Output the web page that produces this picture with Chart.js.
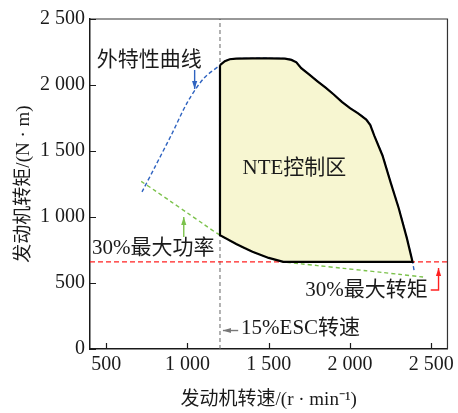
<!DOCTYPE html>
<html>
<head>
<meta charset="utf-8">
<script src="https://cdn.jsdelivr.net/npm/chart.js@4/dist/chart.umd.min.js"></script>
<style>
  html, body { margin: 0; padding: 0; background: #fff; }
</style>
</head>
<body>
<canvas id="c" width="458" height="413"></canvas>
<script>
// Full-load (external characteristic) torque curve, r/min and N·m
const extSpeed  = [720, 800, 900, 1000, 1100, 1200, 1230, 1260, 1300, 1400, 1500, 1600, 1640, 1670, 1700, 1750, 1800, 1850, 1900, 1950, 2000, 2050, 2100, 2125, 2150, 2200, 2250, 2300, 2350, 2385, 2395];
const extTorque = [1190, 1380, 1620, 1870, 2050, 2150, 2180, 2195, 2200, 2202, 2202, 2200, 2190, 2172, 2128, 2078, 2028, 1980, 1928, 1872, 1825, 1785, 1738, 1697, 1614, 1466, 1262, 1066, 840, 660, 590];

// 30% of maximum power curve
const powerSpeed  = [715, 800, 900, 1000, 1100, 1200, 1300, 1354, 1400, 1500, 1590, 1700, 1800, 1960, 2100, 2200, 2300, 2450];
const powerTorque = [1270, 1200, 1115, 1030, 945, 862, 795, 763, 737, 690, 660, 645, 632, 611, 593, 580, 566, 545];

const torque30   = 660;   // 30% of maximum torque, N·m
const escSpeed15 = 1200;  // 15% ESC speed, r/min

const xTicks = [500, 1000, 1500, 2000, 2500];
const xTickLabels = ['500', '1 000', '1 500', '2 000', '2 500'];
const yTicks = [0, 500, 1000, 1500, 2000, 2500];
const yTickLabels = ['0', '500', '1 000', '1 500', '2 000', '2 500'];

const SERIF = "'Liberation Serif', 'Noto Sans CJK SC', serif";
const INK = '#1a1a1a';

const toPts = (xs, ys) => xs.map((x, i) => ({ x: x, y: ys[i] }));
const extPts = toPts(extSpeed, extTorque);
const powerPts = toPts(powerSpeed, powerTorque);

// NTE control area: full-load curve on top, 30% torque line below, 30% power curve on the left-bottom
const nteTop = extPts.filter(p => p.x >= escSpeed15 && p.y >= torque30);
const nteBottom = powerPts.filter(p => p.x >= escSpeed15 && p.y >= torque30).reverse();
const ntePts = [...nteTop, ...nteBottom, nteTop[0]];

const X_MIN = 400, X_MAX = 2600, Y_MIN = 0, Y_MAX = 2500;

// Text labels and arrows, placed in data units
const notes = [
  { text: '外特性曲线', x: 765, y: 2189, align: 'center' },
  { text: 'NTE控制区', x: 1658, y: 1364, align: 'center' },
  { text: '30%最大功率', x: 789, y: 758, align: 'center' },
  { text: '30%最大转矩', x: 2102, y: 447, align: 'center' },
  { text: '15%ESC转速', x: 1330, y: 157, align: 'left' }
];
const arrows = [
  { color: '#2f63c0', path: [[1044, 2114], [1044, 1970]] },
  { color: '#7cc24c', path: [[977, 848], [977, 1000]] },
  { color: '#ff2020', path: [[2497, 447], [2545, 447], [2545, 614]] },
  { color: '#777777', path: [[1312, 140], [1218, 140]] }
];

function drawArrow(ctx, pts, color) {
  ctx.save();
  ctx.strokeStyle = color;
  ctx.fillStyle = color;
  ctx.lineWidth = 1.4;
  ctx.beginPath();
  ctx.moveTo(pts[0][0], pts[0][1]);
  for (let i = 1; i < pts.length; i++) ctx.lineTo(pts[i][0], pts[i][1]);
  ctx.stroke();
  const a = pts[pts.length - 2], b = pts[pts.length - 1];
  const ang = Math.atan2(b[1] - a[1], b[0] - a[0]);
  const L = 8, W = 2.6;
  ctx.beginPath();
  ctx.moveTo(b[0], b[1]);
  ctx.lineTo(b[0] - L * Math.cos(ang) + W * Math.sin(ang), b[1] - L * Math.sin(ang) - W * Math.cos(ang));
  ctx.lineTo(b[0] - L * Math.cos(ang) - W * Math.sin(ang), b[1] - L * Math.sin(ang) + W * Math.cos(ang));
  ctx.closePath();
  ctx.fill();
  ctx.restore();
}

const decorations = {
  id: 'decorations',
  afterDraw(chart) {
    const ctx = chart.ctx;
    const xs = chart.scales.x, ys = chart.scales.y;
    const a = chart.chartArea;
    ctx.save();
    // top and right frame
    ctx.strokeStyle = '#333';
    ctx.lineWidth = 1.2;
    ctx.beginPath();
    ctx.moveTo(a.left, a.top);
    ctx.lineTo(a.right, a.top);
    ctx.lineTo(a.right, a.bottom);
    ctx.stroke();
    // inward tick marks
    ctx.strokeStyle = INK;
    ctx.lineWidth = 1.2;
    ctx.beginPath();
    xs.ticks.forEach(t => {
      const px = Math.round(xs.getPixelForValue(t.value)) + 0.5;
      ctx.moveTo(px, a.bottom);
      ctx.lineTo(px, a.bottom - 6);
    });
    ys.ticks.forEach(t => {
      const py = Math.round(ys.getPixelForValue(t.value)) + 0.5;
      ctx.moveTo(a.left, py);
      ctx.lineTo(a.left + 6, py);
    });
    ctx.stroke();
    // labels
    ctx.fillStyle = INK;
    ctx.font = '21px ' + SERIF;
    ctx.textBaseline = 'middle';
    notes.forEach(n => {
      ctx.textAlign = n.align;
      ctx.fillText(n.text, xs.getPixelForValue(n.x), ys.getPixelForValue(n.y));
    });
    arrows.forEach(ar => {
      drawArrow(ctx, ar.path.map(p => [xs.getPixelForValue(p[0]), ys.getPixelForValue(p[1])]), ar.color);
    });
    ctx.restore();
  }
};

new Chart(document.getElementById('c'), {
  type: 'scatter',
  data: {
    datasets: [
      {
        label: 'NTE',
        data: ntePts,
        showLine: true,
        borderColor: '#000',
        borderWidth: 2.2,
        backgroundColor: '#f7f6d1',
        fill: 'shape',
        tension: 0,
        pointRadius: 0,
        order: 0
      },
      {
        label: '外特性曲线',
        data: extPts,
        showLine: true,
        borderColor: '#2f63c0',
        borderWidth: 1.4,
        borderDash: [4, 2.5],
        tension: 0.3,
        pointRadius: 0,
        fill: false,
        order: 2
      },
      {
        label: '30%最大功率',
        data: powerPts,
        showLine: true,
        borderColor: '#7cc24c',
        borderWidth: 1.4,
        borderDash: [4, 3],
        tension: 0.3,
        pointRadius: 0,
        fill: false,
        order: 3
      },
      {
        label: '30%最大转矩',
        data: [{ x: X_MIN, y: torque30 }, { x: X_MAX, y: torque30 }],
        showLine: true,
        borderColor: '#ff2020',
        borderWidth: 1.3,
        borderDash: [5, 3],
        pointRadius: 0,
        fill: false,
        order: 4
      },
      {
        label: '15%ESC转速',
        data: [{ x: escSpeed15, y: Y_MIN }, { x: escSpeed15, y: Y_MAX }],
        showLine: true,
        borderColor: '#666',
        borderWidth: 1,
        borderDash: [4, 3],
        pointRadius: 0,
        fill: false,
        order: 5
      }
    ]
  },
  options: {
    responsive: false,
    animation: false,
    devicePixelRatio: 1,
    layout: { padding: { left: 10, right: 6, top: 19, bottom: 2 } },
    plugins: { legend: { display: false }, tooltip: { enabled: false } },
    scales: {
      x: {
        type: 'linear',
        min: X_MIN,
        max: X_MAX,
        afterBuildTicks: s => { s.ticks = xTicks.map(v => ({ value: v })); },
        afterFit: s => { s.height = 62; },
        ticks: {
          callback: (v, i) => xTickLabels[i],
          font: { family: SERIF, size: 20 },
          color: INK,
          padding: 4,
          maxRotation: 0,
          autoSkip: false
        },
        grid: { display: true, drawOnChartArea: false, drawTicks: false },
        border: { display: true, color: INK, width: 1.5 },
        title: {
          display: true,
          text: '发动机转速/(r · min⁻¹)',
          font: { family: SERIF, size: 19 },
          color: INK,
          padding: { top: 0, bottom: 0 }
        }
      },
      y: {
        type: 'linear',
        min: Y_MIN,
        max: Y_MAX,
        afterBuildTicks: s => { s.ticks = yTicks.map(v => ({ value: v })); },
        afterFit: s => { s.width = 80; },
        ticks: {
          callback: (v, i) => yTickLabels[i],
          font: { family: SERIF, size: 20 },
          color: INK,
          padding: 5,
          autoSkip: false
        },
        grid: { display: true, drawOnChartArea: false, drawTicks: false },
        border: { display: true, color: INK, width: 1.5 },
        title: {
          display: true,
          text: '发动机转矩/(N · m)',
          font: { family: SERIF, size: 19 },
          color: INK,
          padding: { top: 3, bottom: 0 }
        }
      }
    }
  },
  plugins: [decorations]
});
</script>
</body>
</html>
